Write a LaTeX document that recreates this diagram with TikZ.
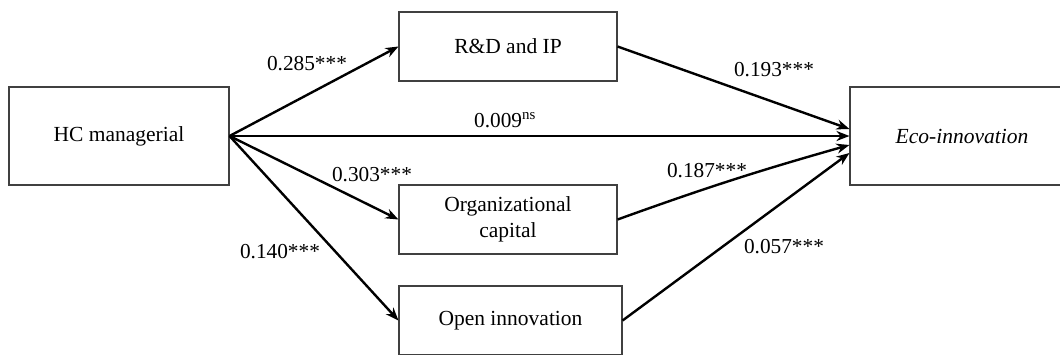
\documentclass[tikz,border=0pt]{standalone}
\usepackage{fontspec}
\setmainfont{Liberation Serif}
\usetikzlibrary{arrows.meta}
\begin{document}
\begin{tikzpicture}[x=1pt,y=-1pt,
  box/.style={draw=black!75,line width=1.1pt,inner sep=0pt,minimum width=218pt,minimum height=69pt,align=center,font=\fontsize{21.5}{26}\selectfont},
  lab/.style={inner sep=0pt,font=\fontsize{21.3}{24}\selectfont},
  arr/.style={line width=2.4pt,-{Stealth[length=13pt,width=10pt]}}]
\useasboundingbox (0,0) rectangle (1060,354);
\clip (0,0) rectangle (1060,354);
\node[box,minimum width=220pt,minimum height=98pt] (hc) at (119,136) {HC managerial};
\node[box] (rd) at (508,46.5) {R\&D and IP};
\node[box] (org) at (508,219.5) {Organizational\\capital};
\node[box,minimum width=223pt] (oi) at (510.5,320.5) {Open innovation};
\node[box,minimum width=224pt,minimum height=98pt] (eco) at (962,136) {\itshape Eco-innovation};
\coordinate (e1) at ([yshift=7pt]eco.west);
\coordinate (e3) at ([yshift=-9pt]eco.west);
\coordinate (e4) at ([yshift=-17pt]eco.west);
\draw[arr] (hc.east) -- (rd.west);
\draw[arr] (hc.east) -- (eco.west);
\draw[arr] (hc.east) -- (org.west);
\draw[arr] (hc.east) -- (oi.west);
\draw[arr] (rd.east) -- (e1);
\draw[arr] (org.east) to[bend left=2] (e3);
\draw[arr] (oi.east) -- (e4);
\node[lab] (l1) at (307,64) {0.285***};
\node[lab] (l2) at (505,120) {0.009\textsuperscript{ns}};
\node[lab] (l3) at (372,175) {0.303***};
\node[lab] (l4) at (280,252) {0.140***};
\node[lab] (l5) at (774,70) {0.193***};
\node[lab] (l6) at (707,171) {0.187***};
\node[lab] (l7) at (784,247) {0.057***};
\end{tikzpicture}
\end{document}
